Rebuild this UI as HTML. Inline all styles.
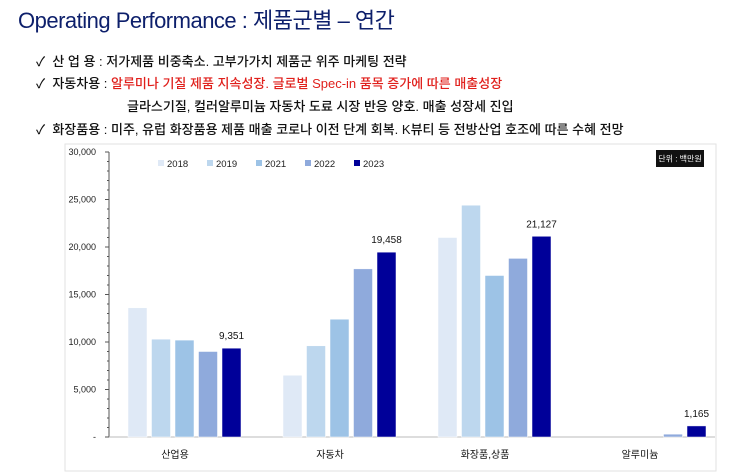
<!DOCTYPE html>
<html><head><meta charset="utf-8"><style>
body{margin:0;width:743px;height:473px;background:#fff;font-family:"Liberation Sans","Noto Sans CJK KR",sans-serif;overflow:hidden;position:relative}
.t{position:absolute;white-space:nowrap}
</style></head><body>
<div class="t" style="left:18px;top:3px;font-size:22px;color:#0d1f6b;letter-spacing:-0.5px">Operating Performance : 제품군별 – 연간</div>
<div style="font-size:13px;color:#111;font-weight:500">
<div class="t" style="left:36px;top:51px">✓ &nbsp;산 업 용 : 저가제품 비중축소. 고부가가치 제품군 위주 마케팅 전략</div>
<div class="t" style="left:36px;top:73px">✓ &nbsp;자동차용 : <span style="color:#e0201c">알루미나 기질 제품 지속성장. 글로벌 Spec-in 품목 증가에 따른 매출성장</span></div>
<div class="t" style="left:127px;top:96px">글라스기질, 컬러알루미늄 자동차 도료 시장 반응 양호. 매출 성장세 진입</div>
<div class="t" style="left:36px;top:119px">✓ &nbsp;화장품용 : 미주, 유럽 화장품용 제품 매출 코로나 이전 단계 회복. K뷰티 등 전방산업 호조에 따른 수혜 전망</div>
</div>
<svg id="c" width="743" height="473" style="position:absolute;left:0;top:0"></svg>
<script>
const categories=["산업용","자동차","화장품,상품","알루미늄"];
const years=["2018","2019","2021","2022","2023"];
const s2018=[13600,6500,21000,0];
const s2019=[10300,9600,24400,0];
const s2021=[10200,12400,17000,0];
const s2022=[9000,17700,18800,300];
const s2023=[9351,19458,21127,1165];
const labels2023=["9,351","19,458","21,127","1,165"];
const yTicks=[0,5000,10000,15000,20000,25000,30000];
const yTickLabels=["-","5,000","10,000","15,000","20,000","25,000","30,000"];
const colors=["#dfe9f6","#bdd7ee","#9dc3e6","#8faadc","#000099"];
const series=[s2018,s2019,s2021,s2022,s2023];
const svg=document.getElementById('c');const NS="http://www.w3.org/2000/svg";
function mk(t,a,p){const e=document.createElementNS(NS,t);for(const k in a)e.setAttribute(k,a[k]);(p||svg).appendChild(e);return e;}
const y0=437,y1=152,ymax=30000;
const Y=v=>y0-(y0-y1)*v/ymax;
const gx=i=>175+155*i;
const bw=19,bs=23.5;
let bg=mk('rect',{x:65,y:144,width:651,height:327,fill:'#fff',stroke:'#e2e2e2'});


let ax=mk('line',{x1:109,y1:y1,x2:109,y2:y0,stroke:'#555'});


let bx=mk('line',{x1:109,y1:y0,x2:715,y2:y0,stroke:'#bbb'});


for(let v=0;v<=ymax;v+=1000){const big=v%5000==0;mk('line',{x1:big?105:107,y1:Y(v),x2:109,y2:Y(v),stroke:'#555'});}
yTicks.forEach((v,i)=>{const t=mk('text',{x:96,y:Y(v)+3,'text-anchor':'end','font-size':9,fill:'#222'});t.textContent=yTickLabels[i];

});
categories.forEach((c,i)=>{
 series.forEach((s,j)=>{const x=gx(i)-47+bs*j;const r=mk('rect',{x:x,y:Y(s[i]),width:bw,height:y0-Y(s[i]),fill:colors[j],stroke:'#fff','stroke-width':0.5});
 
 });
 const lx=gx(i)-47+bs*4+bw/2;
 const lt=mk('text',{x:lx,y:Y(s2023[i])-9,'text-anchor':'middle','font-size':10,fill:'#111'});lt.textContent=labels2023[i];
 
 
 const ct=mk('text',{x:gx(i),y:458,'text-anchor':'middle','font-size':10,fill:'#111'});ct.textContent=c;
 
 
});
years.forEach((yr,j)=>{const x=158+49*j;
 const lg=mk('g',{});
 
 
 mk('rect',{x:x,y:160,width:6,height:6,fill:colors[j]},lg);
 const t=mk('text',{x:x+9,y:167,'font-size':9.5,fill:'#222'},lg);t.textContent=yr;});
const ub=mk('rect',{x:656,y:150,width:48,height:17,fill:'#111'});


const ut=mk('text',{x:680,y:161.5,'text-anchor':'middle','font-size':8,fill:'#fff'});ut.textContent='단위 : 백만원';


</script>
</body></html>
